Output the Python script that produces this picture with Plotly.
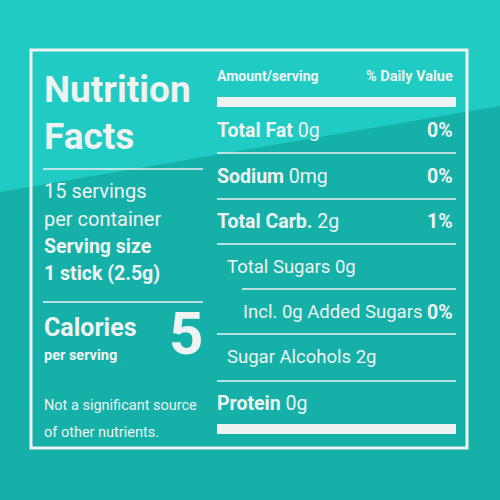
import plotly.graph_objects as go

# label content
nutrients = ["Total Fat", "Sodium", "Total Carb.", "Total Sugars 0g",
             "Incl. 0g Added Sugars", "Sugar Alcohols 2g", "Protein"]
amounts = ["0g", "0mg", "2g", "", "", "", "0g"]
daily_values = ["0%", "0%", "1%", "", "0%", "", ""]
bold_name = [True, True, True, False, False, False, True]
indent = [0, 0, 0, 10, 26, 10, 0]
servings_text = ["15 servings", "per container"]
serving_size = ["Serving size", "1 stick (2.5g)"]
calories = 5
footnote = ["Not a significant source", "of other nutrients."]

FONT = "Roboto"
WHITE = "#eef2f1"

fig = go.Figure()
shapes = [
    dict(type="rect", x0=0, x1=500, y0=0, y1=500, fillcolor="#15b1a9", line_width=0, layer="below"),
    dict(type="path", path="M 0 0 L 500 0 L 500 106 L 0 192 Z", fillcolor="#20cbc3",
         line_width=0, layer="below"),
    dict(type="rect", x0=31, x1=467, y0=50, y1=448, line=dict(color=WHITE, width=3)),
    dict(type="rect", x0=217, x1=456, y0=97, y1=107, fillcolor=WHITE, line_width=0),
    dict(type="rect", x0=217, x1=456, y0=424, y1=434, fillcolor=WHITE, line_width=0),
]
for y in [169, 302]:
    shapes.append(dict(type="line", x0=43, x1=203, y0=y, y1=y, line=dict(color=WHITE, width=1.5)))
for i, y in enumerate([153, 199, 244, 289, 334, 381]):
    x0 = 242 if i == 3 else 217
    shapes.append(dict(type="line", x0=x0, x1=456, y0=y, y1=y, line=dict(color=WHITE, width=1.5)))

ann = []


def txt(x, y, s, size, anchor="left", bold=False):
    if bold:
        s = "<b>" + s + "</b>"
    ann.append(dict(x=x, y=y, text=s, showarrow=False, xanchor=anchor, yanchor="middle",
                    font=dict(family=FONT, size=size, color=WHITE)))


txt(42, 89, "Nutrition", 37, bold=True)
txt(42, 136, "Facts", 37, bold=True)
txt(42, 191, servings_text[0], 20)
txt(42, 219, servings_text[1], 20)
txt(42, 246, serving_size[0], 19.5, bold=True)
txt(42, 273, serving_size[1], 19.5, bold=True)
txt(42, 327, "Calories", 25, bold=True)
txt(42, 355, "per serving", 14.5, bold=True)
txt(205, 333, str(calories), 60, anchor="right", bold=True)
txt(42, 405, footnote[0], 14.5)
txt(42, 432, footnote[1], 14.5)

txt(215, 76, "Amount/serving", 14, bold=True)
txt(455, 76, "% Daily Value", 14.5, anchor="right", bold=True)
row_y = [130, 176, 221, 267, 312, 357, 403]
for name, amt, dv, b, ind, y in zip(nutrients, amounts, daily_values, bold_name, indent, row_y):
    label = ("<b>" + name + "</b>" if b else name) + (" " + amt if amt else "")
    txt(215 + ind, y, label, 19.5 if b else 18.5)
    if dv:
        txt(455, y, dv, 19.5, anchor="right", bold=True)

fig.update_layout(
    width=500, height=500, margin=dict(l=0, r=0, t=0, b=0),
    shapes=shapes, annotations=ann, plot_bgcolor="#15b1a9", paper_bgcolor="#15b1a9",
    xaxis=dict(range=[0, 500], visible=False, fixedrange=True),
    yaxis=dict(range=[500, 0], visible=False, fixedrange=True),
    showlegend=False,
)
fig.write_html("out.html", config={"displayModeBar": False},
               post_script="document.body.style.margin='0';")
